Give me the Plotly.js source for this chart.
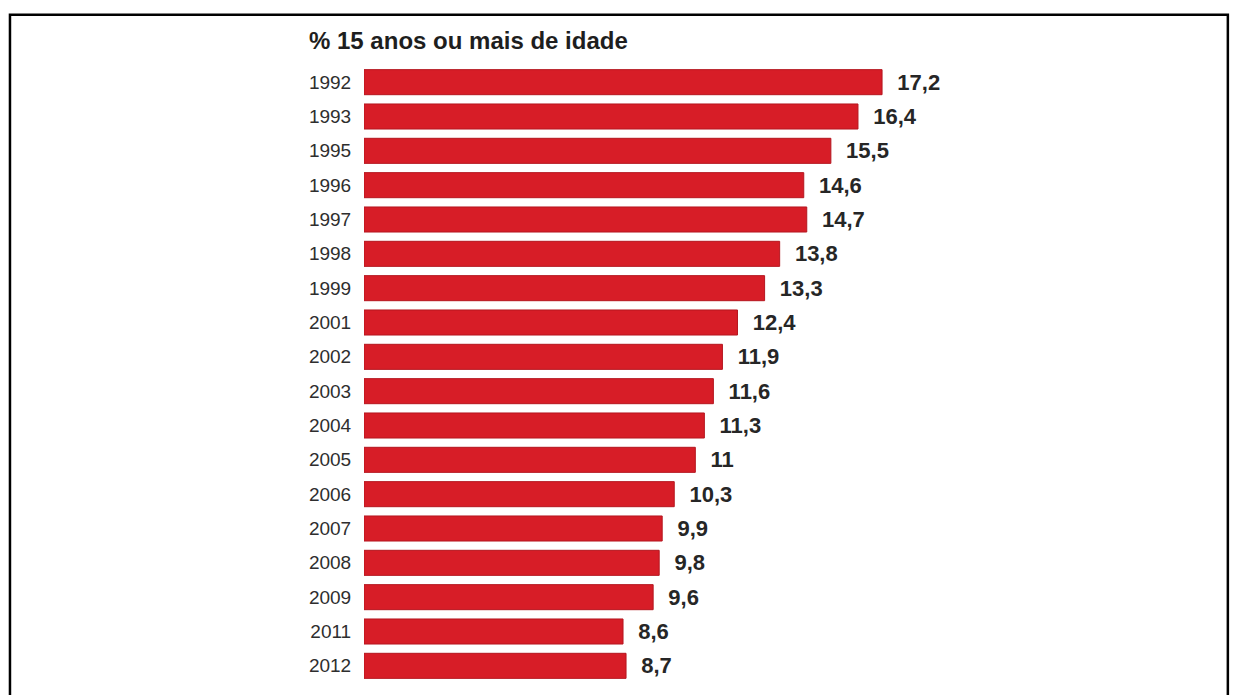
<!DOCTYPE html>
<html>
<head>
<meta charset="utf-8">
<script src="https://cdn.plot.ly/plotly-3.0.1.min.js"></script>
<style>
  html, body { margin: 0; padding: 0; background: #ffffff; }
  #chart { width: 1237px; height: 695px; }
</style>
</head>
<body>
<div id="chart"></div>
<script>
const years = ["1992","1993","1995","1996","1997","1998","1999","2001","2002","2003","2004","2005","2006","2007","2008","2009","2011","2012"];
const values = [17.2,16.4,15.5,14.6,14.7,13.8,13.3,12.4,11.9,11.6,11.3,11,10.3,9.9,9.8,9.6,8.6,8.7];
const titleText = "% 15 anos ou mais de idade";

const labels = values.map(v => "\u00a0\u00a0" + String(v).replace(".", ","));

const plotLeft = 363.5, plotRight = 1117.5, plotTop = 65.3, plotBottom = 683.3;
const pw = plotRight - plotLeft, ph = plotBottom - plotTop;
const px2paperX = px => (px - plotLeft) / pw;
const px2paperY = py => (plotBottom - py) / ph;

const trace = {
  type: "bar",
  orientation: "h",
  x: values,
  y: years,
  text: labels,
  textposition: "outside",
  constraintext: "none",
  cliponaxis: false,
  textfont: { family: "Liberation Sans, Arial, sans-serif", size: 22, color: "#262626", weight: "bold" },
  marker: { color: "#d71d27", line: { color: "#b5161f", width: 1 } },
  hoverinfo: "none"
};

const layout = {
  width: 1237,
  height: 695,
  paper_bgcolor: "#ffffff",
  plot_bgcolor: "#ffffff",
  showlegend: false,
  bargap: 0.27,
  margin: { l: plotLeft, r: 1237 - plotRight, t: plotTop, b: 695 - plotBottom, pad: 0 },
  title: {
    text: "<b>" + titleText + "</b>",
    font: { family: "Liberation Sans, Arial, sans-serif", size: 24, color: "#1e1e1e" },
    xref: "container",
    x: 309 / 1237,
    xanchor: "left",
    yref: "container",
    y: 1 - 41 / 695,
    yanchor: "middle"
  },
  xaxis: {
    range: [0, 25],
    visible: false,
    showgrid: false,
    zeroline: false,
    fixedrange: true
  },
  yaxis: {
    type: "category",
    autorange: "reversed",
    showgrid: false,
    zeroline: false,
    showline: false,
    ticks: "outside",
    ticklen: 8,
    tickcolor: "rgba(0,0,0,0)",
    tickfont: { family: "Liberation Sans, Arial, sans-serif", size: 19, color: "#2e2e2e" },
    fixedrange: true
  },
  shapes: [
    {
      type: "rect",
      xref: "paper", yref: "paper",
      x0: px2paperX(9), x1: px2paperX(1228.5),
      y0: px2paperY(720), y1: px2paperY(15),
      line: { color: "#000000", width: 2.5 },
      fillcolor: "rgba(0,0,0,0)",
      layer: "above"
    }
  ]
};

Plotly.newPlot("chart", [trace], layout, { displayModeBar: false, staticPlot: true });
</script>
</body>
</html>
